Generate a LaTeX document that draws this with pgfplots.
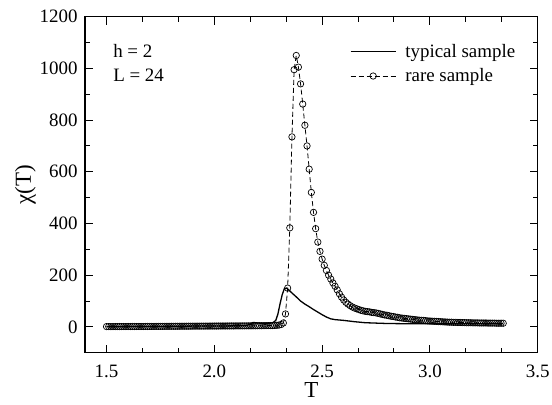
\documentclass[border=0pt]{standalone}
\usepackage{fontspec}
\setmainfont{Liberation Serif}
\usepackage{pgfplots}
\usepackage{pgfplotstable}
\pgfplotsset{compat=1.18}
\pgfplotstableread{
T chi
1.50 1.0
1.51 1.0
1.52 1.0
1.53 1.1
1.54 1.1
1.55 1.1
1.56 1.2
1.57 1.2
1.58 1.2
1.59 1.3
1.60 1.3
1.61 1.3
1.62 1.4
1.63 1.4
1.64 1.4
1.65 1.5
1.66 1.5
1.67 1.5
1.68 1.6
1.69 1.6
1.70 1.7
1.71 1.7
1.72 1.8
1.73 1.8
1.74 1.9
1.75 1.9
1.76 2.0
1.77 2.0
1.78 2.1
1.79 2.1
1.80 2.2
1.81 2.2
1.82 2.3
1.83 2.3
1.84 2.4
1.85 2.4
1.86 2.5
1.87 2.5
1.88 2.6
1.89 2.6
1.90 2.7
1.91 2.7
1.92 2.8
1.93 2.8
1.94 2.9
1.95 2.9
1.96 3.0
1.97 3.0
1.98 3.1
1.99 3.1
2.00 3.2
2.01 3.2
2.02 3.3
2.03 3.3
2.04 3.4
2.05 3.4
2.06 3.5
2.07 3.5
2.08 3.6
2.09 3.6
2.10 3.7
2.11 3.7
2.12 3.8
2.13 3.8
2.14 3.9
2.15 3.9
2.16 4.0
2.17 4.0
2.18 4.1
2.19 4.2
2.20 4.3
2.21 4.4
2.22 4.5
2.23 4.6
2.24 4.7
2.25 4.8
2.26 5.0
2.27 5.2
2.28 5.5
2.29 6.0
2.30 7
2.31 9
2.32 15
2.33 50
2.34 150
2.35 383
2.36 735
2.37 995
2.38 1050
2.39 1005
2.40 940
2.41 862
2.42 780
2.43 700
2.44 610
2.45 520
2.46 443
2.47 380
2.48 328
2.49 292
2.50 262
2.51 238
2.52 218
2.53 200
2.54 185
2.55 170
2.56 157
2.57 143
2.58 128
2.59 115
2.60 104
2.61 95
2.62 88
2.63 82
2.64 77
2.65 73
2.66 70
2.67 67
2.68 64
2.69 62
2.70 60
2.71 59
2.72 58
2.73 56
2.74 55
2.75 54
2.76 52
2.77 50
2.78 48
2.79 46
2.80 45
2.81 43
2.82 41
2.83 40
2.84 38
2.85 37
2.86 35
2.87 34
2.88 33
2.89 32
2.90 31
2.91 30
2.92 29
2.93 28
2.94 27
2.95 26
2.96 25.5
2.97 25
2.98 24
2.99 23
3.00 22.5
3.01 22
3.02 21.5
3.03 21
3.04 20.5
3.05 20
3.06 19.5
3.07 19
3.08 18.5
3.09 18
3.10 18
3.11 17.5
3.12 17.5
3.13 17
3.14 17
3.15 16.5
3.16 16.5
3.17 16
3.18 16
3.19 16
3.20 15.5
3.21 15.5
3.22 15.5
3.23 15
3.24 15
3.25 15
3.26 15
3.27 14.5
3.28 14.5
3.29 14.5
3.30 14.5
3.31 14
3.32 14
3.33 14
3.34 14
}\raretable
\pgfplotstableread{
T chi
1.50 0
1.60 1
1.70 1
1.80 2
1.90 3
2.00 3
2.10 4
2.15 5
2.165 10
2.18 17
2.20 15
2.22 14
2.25 14
2.27 15
2.285 25
2.295 50
2.305 90
2.315 125
2.325 148
2.335 150
2.345 143
2.36 131
2.38 116
2.40 100
2.42 88
2.44 78
2.46 67
2.48 57
2.50 47
2.52 38
2.54 31
2.56 28
2.60 25
2.65 20
2.70 16
2.80 13
2.90 12
3.00 12
3.10 12
3.20 12
3.34 12
}\typtable
\begin{document}
\begin{tikzpicture}
\useasboundingbox (-85bp,-52.3bp) rectangle (467bp,352.7bp);
\begin{axis}[
  at={(0,0)}, anchor=south west,
  scale only axis, width=452.7bp, height=336bp,
  xmin=1.4, xmax=3.5, ymin=-100, ymax=1200,
  xtick={1.5,2.0,2.5,3.0,3.5}, ytick={0,200,400,600,800,1000,1200},
  minor x tick num=2, minor y tick num=1,
  tick align=inside,
  major tick length=8bp, minor tick length=5bp,
  axis line style={line width=1.1bp},
  every tick/.style={line width=1bp, black},
  /pgf/number format/assume math mode=true,
  /pgf/number format/1000 sep={},
  xticklabel={\pgfmathprintnumber[fixed,fixed zerofill,precision=1]{\tick}},
  ticklabel style={font=\fontsize{19}{22}\selectfont},
  x tick label style={yshift=-9bp},
  y tick label style={xshift=-4bp},
  xlabel={T}, ylabel={χ(T)},
  every axis x label/.style={at={(axis description cs:0.5,-0.112)}, anchor=center, font=\fontsize{23}{25}\selectfont},
  every axis y label/.style={at={(axis description cs:-0.132,0.5)}, rotate=90, anchor=center, font=\fontsize{23}{25}\selectfont},
  legend style={draw=none, fill=none, at={(axis description cs:0.585,0.925)}, anchor=north west,
    font=\fontsize{19}{22}\selectfont, row sep=6bp, inner sep=0pt, /tikz/column sep=7bp, legend cell align=left},
  legend image code/.code={\draw[mark repeat=2,mark phase=2,#1] plot coordinates {(0bp,0bp) (22.5bp,0bp) (45bp,0bp)};},
]
\addplot[black, line width=1.3bp, no marks] table[x=T,y=chi] {\typtable};
\addlegendentry{typical sample}
\addplot[black, line width=0.8bp, dash pattern=on 5bp off 3bp, mark=o, mark size=3.2bp, mark options={solid, line width=0.7bp, fill=white}] table[x=T,y=chi] {\raretable};
\addlegendentry{rare sample}
\node[anchor=west, font=\fontsize{19}{22}\selectfont] at (axis cs:1.515,1067) {h = 2};
\node[anchor=west, font=\fontsize{19}{22}\selectfont] at (axis cs:1.515,972) {L = 24};
\end{axis}
\end{tikzpicture}
\end{document}
